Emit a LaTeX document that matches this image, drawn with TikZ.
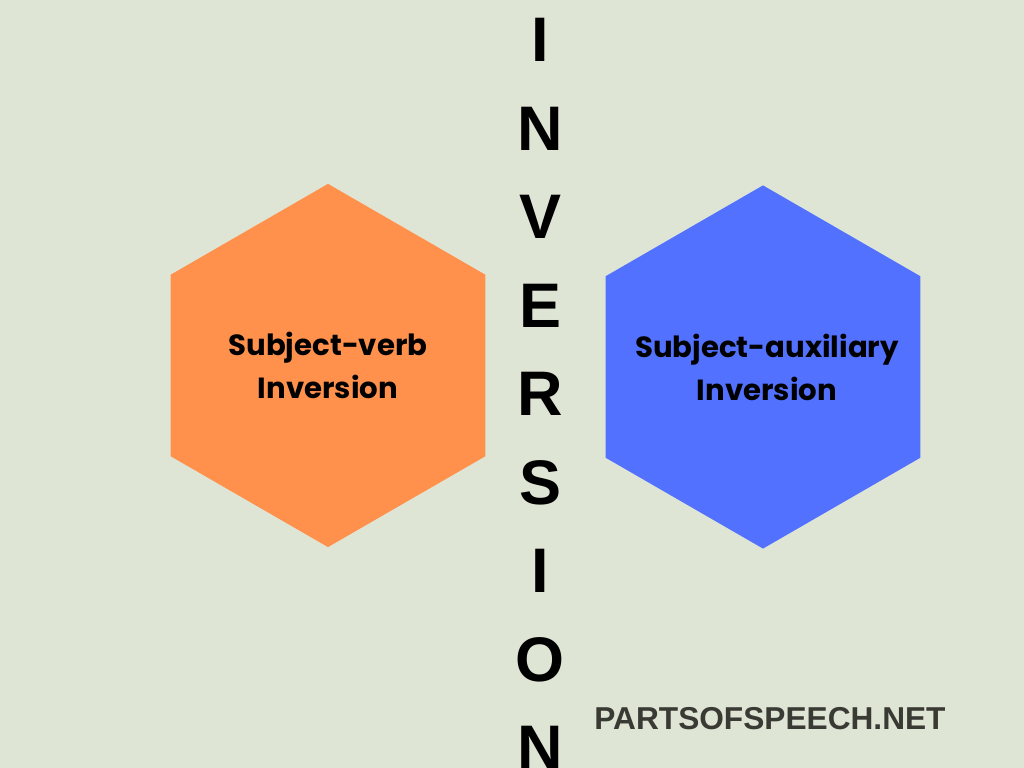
\documentclass[tikz,border=0pt]{standalone}
\usepackage{fontspec}
\setmainfont{Poppins}
\newfontfamily\arialfont{Liberation Sans}
\usetikzlibrary{shapes.geometric}
\definecolor{bgcolor}{RGB}{223,229,213}
\definecolor{hexorange}{RGB}{255,145,77}
\definecolor{hexblue}{RGB}{82,113,255}
\definecolor{sitegray}{RGB}{58,58,52}

\begin{document}
\begin{tikzpicture}[x=0.01cm,y=-0.01cm,
  hexbox/.style={regular polygon,regular polygon sides=6,shape border rotate=30,
    minimum size=3.63cm,inner sep=0pt},
  hexlabel/.style={align=center,text=black,font=\bfseries\fontsize{8.3}{12.2}\selectfont},
  letterbox/.style={font=\arialfont\bfseries\fontsize{17.9}{20}\selectfont,text=black}]
\fill[bgcolor] (0,0) rectangle (1024,768);
\useasboundingbox (0,0) rectangle (1024,768);

\node[hexbox,fill=hexorange] (sv) at (328,365.5) {};
\node[hexbox,fill=hexblue] (sa) at (763,367) {};
\node[hexlabel] (svtext) at (sv.center) {Subject-verb\\Inversion};
\node[hexlabel] (satext) at ([xshift=0.04cm]sa.center) {Subject-auxiliary\\Inversion};

\foreach \ch [count=\i from 0] in {I,N,V,E,R,S,I,O,N}
  \node[letterbox] (inv\i) at (540,40+88.5*\i) {\ch};

\node[font=\arialfont\bfseries\fontsize{9}{10}\selectfont,text=sitegray] (site) at (770,719) {PARTSOFSPEECH.NET};
\end{tikzpicture}
\end{document}
